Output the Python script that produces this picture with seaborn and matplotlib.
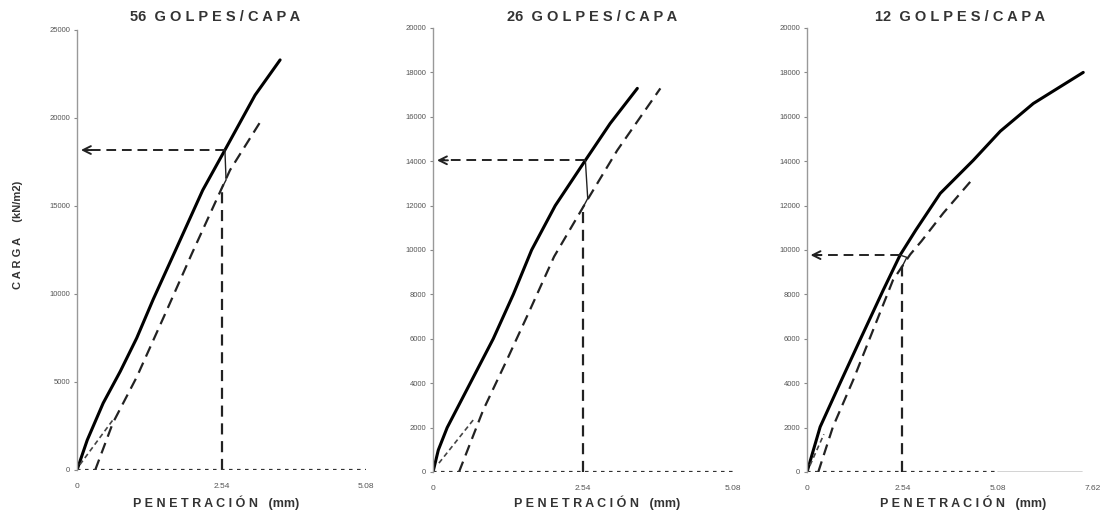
import numpy as np
import pandas as pd
import seaborn as sns
import matplotlib.pyplot as plt

# --- data (penetration mm, load kN/m2) ---
titles = ["56 GOLPES/CAPA", "26 GOLPES/CAPA", "12 GOLPES/CAPA"]

pen_56 = [0, 0.18, 0.46, 0.76, 1.05, 1.34, 1.72, 2.21, 2.60, 3.13, 3.57]
load_56 = [0, 1700, 3800, 5600, 7500, 9700, 12400, 15900, 18180, 21300, 23300]
pen_56_corr = [0.32, 0.63, 1.05, 1.58, 2.02, 2.69, 3.22]
load_56_corr = [0, 2670, 5280, 9090, 12300, 17040, 19770]
pen_56_tan = [0.05, 0.63]
load_56_tan = [300, 2840]

pen_26 = [0, 0.09, 0.24, 0.63, 1.02, 1.36, 1.67, 2.07, 2.58, 3.00, 3.46]
load_26 = [0, 990, 2000, 4000, 6000, 8000, 10000, 12000, 14040, 15700, 17280]
pen_26_corr = [0.44, 0.85, 1.25, 1.64, 2.05, 2.61, 3.12, 3.85]
load_26_corr = [0, 2790, 5040, 7290, 9700, 12240, 14490, 17280]
pen_26_tan = [0.10, 0.68]
load_26_tan = [400, 2340]

pen_12 = [0, 0.35, 0.88, 1.41, 2.03, 2.48, 2.90, 3.55, 4.43, 5.15, 6.03, 7.36]
load_12 = [0, 2030, 4000, 5940, 8190, 9770, 10900, 12550, 14040, 15350, 16600, 18000]
pen_12_corr = [0.30, 0.69, 1.23, 1.76, 2.29, 2.75, 3.05, 3.63, 4.43]
load_12_corr = [0, 2030, 4140, 6390, 8640, 9800, 10400, 11660, 13230]
pen_12_tan = [0.08, 0.45]
load_12_tan = [300, 1700]

cbr_pen = 2.54
cbr_load = [18180, 14040, 9770]
y_max = [25000, 20000, 20000]
y_step = [5000, 2000, 2000]
x_max = [5.08, 5.08, 7.62]
x_tick_labels = [["0", "2.54", "5.08"], ["0", "2.54", "5.08"], ["0", "2.54", "5.08", "7.62"]]

panels = [
    (pen_56, load_56, pen_56_corr, load_56_corr, pen_56_tan, load_56_tan),
    (pen_26, load_26, pen_26_corr, load_26_corr, pen_26_tan, load_26_tan),
    (pen_12, load_12, pen_12_corr, load_12_corr, pen_12_tan, load_12_tan),
]

sns.set_style("white")
plt.rcParams['font.family'] = ['Liberation Sans', 'DejaVu Sans']

W, H = 1110, 512
fig = plt.figure(figsize=(W / 100, H / 100), dpi=100)

# axes rectangles in pixels: left, right, bottom(y0), top(ymax)
rects = [(77, 366, 470, 30), (433, 733, 472, 28), (807, 1093, 472, 28)]
title_cx = [215, 592, 960]
xlabel_cx = [216, 597, 963]


def spaced(s):
    return " ".join(s)


for i, (pen, load, pen_c, load_c, pen_t, load_t) in enumerate(panels):
    l, r, b, t = rects[i]
    ax = fig.add_axes([l / W, 1 - b / H, (r - l) / W, (b - t) / H])

    raw = pd.DataFrame({"pen": pen, "load": load})
    corr = pd.DataFrame({"pen": pen_c, "load": load_c})
    tan = pd.DataFrame({"pen": pen_t, "load": load_t})

    sns.lineplot(data=raw, x="pen", y="load", ax=ax, color="black", lw=2.2,
                 sort=False, estimator=None, legend=False)
    sns.lineplot(data=corr, x="pen", y="load", ax=ax, color="#222222", lw=1.6,
                 sort=False, estimator=None, legend=False)
    ax.lines[-1].set_dashes((5, 3))
    sns.lineplot(data=tan, x="pen", y="load", ax=ax, color="#444444", lw=1.2,
                 sort=False, estimator=None, legend=False)
    ax.lines[-1].set_dashes((3, 2))

    # CBR reading at 2.54 mm
    x_hit = np.interp(cbr_load[i], load, pen)
    y_corr = np.interp(cbr_pen, pen_c, load_c)
    ax.plot([cbr_pen, cbr_pen], [0, y_corr], color="#222222", lw=1.6, dashes=(5, 3))
    ax.plot([cbr_pen, cbr_pen + 0.08 * x_max[i] / 5.08, x_hit],
            [y_corr, y_corr + 0.02 * y_max[i], cbr_load[i]], color="#222222", lw=1.0)
    ax.plot([x_hit, 0.12], [cbr_load[i], cbr_load[i]], color="#222222", lw=1.4, dashes=(5, 3))
    ax.annotate("", xy=(0.02, cbr_load[i]), xytext=(0.3 * x_max[i] / 5.08, cbr_load[i]),
                arrowprops=dict(arrowstyle="->", color="#222222", lw=1.4, mutation_scale=14))

    # dotted baseline as x axis
    ax.plot([0, 5.08], [0, 0], color="#333333", lw=1.6, dashes=(1.6, 2.0))
    if x_max[i] > 5.08:
        ax.plot([5.08, x_max[i] - 0.3], [0, 0], color="#cccccc", lw=1.2)

    ax.set_xlim(0, x_max[i])
    ax.set_ylim(0, y_max[i])
    ax.set_xticks(np.arange(len(x_tick_labels[i])) * 2.54)
    ax.set_xticklabels(x_tick_labels[i])
    ax.set_yticks(np.arange(0, y_max[i] + 1, y_step[i]))
    ax.set_yticklabels([str(v) for v in range(0, y_max[i] + 1, y_step[i])])
    ax.tick_params(axis="y", length=2, width=0.8, color="#888888", labelsize=5.5,
                   labelcolor="#555555", pad=3, left=True)
    ax.tick_params(axis="x", length=0, labelsize=6, labelcolor="#555555", pad=9)
    for s in ["top", "right", "bottom"]:
        ax.spines[s].set_visible(False)
    ax.spines["left"].set_color("#999999")
    ax.spines["left"].set_linewidth(1.0)
    ax.set_xlabel("")
    ax.set_ylabel("")
    ax.patch.set_alpha(0)

    num, rest = titles[i].split(" ", 1)
    fig.text(title_cx[i] / W, 1 - 17 / H, num + "  " + spaced(rest), ha="center", va="center",
             fontsize=10.5, fontweight="bold", color="#333333")
    fig.text(xlabel_cx[i] / W, 1 - 503 / H, spaced("PENETRACIÓN") + "   (mm)", ha="center",
             va="center", fontsize=9, fontweight="bold", color="#333333")

fig.text(18 / W, 1 - 235 / H, spaced("CARGA") + "     (kN/m2)", rotation=90, ha="center",
         va="center", fontsize=8, fontweight="bold", color="#333333")

fig.savefig("out.png", dpi=100, facecolor="white")
